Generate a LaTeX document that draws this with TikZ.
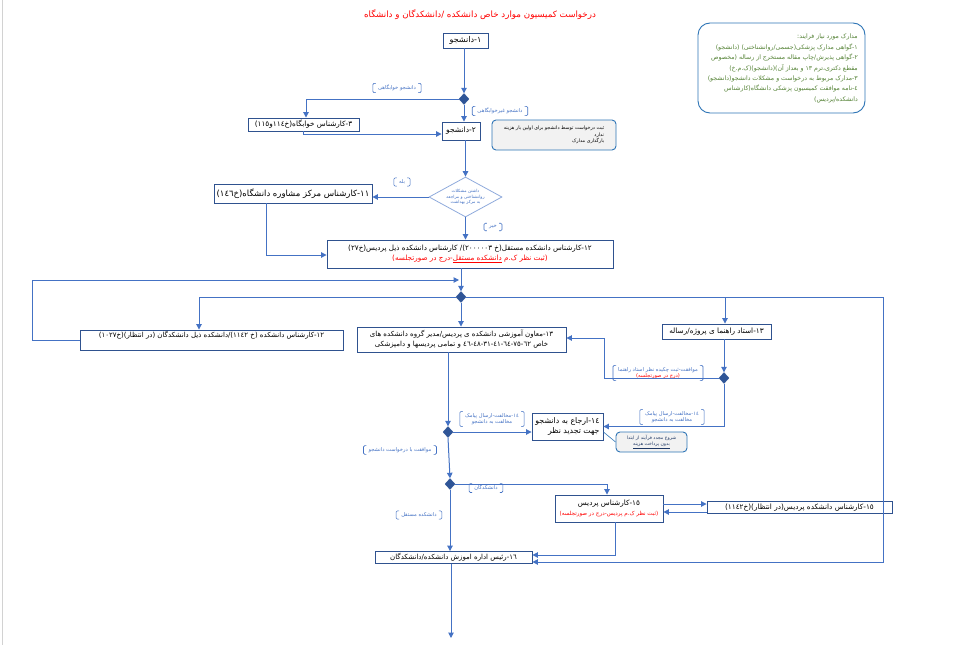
\documentclass[tikz,border=0pt]{standalone}
\usepackage{fontspec}
\usetikzlibrary{arrows.meta,shapes.geometric}
\TeXXeTstate=1
\newfontfamily\ar[Script=Arabic]{DejaVu Sans}
\newcommand\R[1]{\beginR #1\endR}
\newcommand\fs[2]{\fontsize{#1}{#2}\selectfont}
\definecolor{boxc}{HTML}{2F528F}
\definecolor{arrc}{HTML}{4472C4}
\definecolor{diac}{HTML}{2F5597}
\definecolor{lblc}{HTML}{4472C4}
\definecolor{redc}{HTML}{FF0000}
\definecolor{grnc}{HTML}{548235}
\definecolor{notec}{HTML}{2E75B6}
\definecolor{notefill}{HTML}{F2F2F2}
\definecolor{dlc}{HTML}{8FAADC}
\definecolor{navy}{HTML}{1F3864}
\newcommand\blabel[3]{%
 \node[lbl] (#1) at (#2) {#3};
 \draw[brk] ([xshift=3pt]#1.north west) -- (#1.north west) -- (#1.south west) -- ([xshift=3pt]#1.south west);
 \draw[brk] ([xshift=-3pt]#1.north east) -- (#1.north east) -- (#1.south east) -- ([xshift=-3pt]#1.south east);}
\begin{document}
\begin{tikzpicture}[x=1pt,y=-1pt,
  box/.style={draw=boxc, line width=0.9pt, fill=white, inner sep=1pt, font=\ar\fs{7.5}{9.5}, text=black, align=center},
  ln/.style={draw=arrc, line width=1pt},
  arr/.style={ln, -{Triangle[length=5.5pt,width=5.5pt]}},
  sd/.style={diamond, fill=diac, draw=diac, inner sep=0pt, minimum width=10pt, minimum height=11pt},
  lbl/.style={font=\ar\fs{5.2}{6.6}, text=lblc, inner xsep=5pt, inner ysep=1.5pt, align=center},
  brk/.style={draw=lblc, line width=0.6pt, rounded corners=1.2pt},
  note/.style={draw=notec, line width=0.9pt, fill=notefill, rounded corners=4pt, inner sep=2pt, font=\ar\fs{4.8}{6.5}, align=right}]
\useasboundingbox (0,0) rectangle (959,645);
\fill[white] (0,0) rectangle (959,645);
\draw[gray!35, line width=1pt] (2,0) -- (2,645);

% title
\node[font=\ar\fs{8.7}{10}, text=redc] (title) at (480,15) {\R{درخواست کمیسیون موارد خاص دانشکده /دانشکدگان و دانشگاه}};

% top-right requirements box
\node[draw=notec, line width=0.9pt, rounded corners=12pt, minimum width=167pt, minimum height=90pt] (req) at (781.5,68) {};
\node[anchor=north east, font=\ar\fs{6.2}{10.4}, text=grnc, align=right, inner sep=0pt] (reqt) at (858,34) {%
\R{مدارک مورد نیاز فرایند:}\\
\R{١-گواهی مدارک پزشکی(جسمی/روانشناختی) (دانشجو)}\\
\R{٢-گواهی پذیرش/چاپ مقاله مستخرج از رساله (مخصوص}\\
\R{مقطع دکتری،ترم ١٣ و بعداز آن)(دانشجو)(ک.م.خ)}\\
\R{٣-مدارک مربوط به درخواست و مشکلات دانشجو(دانشجو)}\\
\R{٤-نامه موافقت کمیسیون پزشکی دانشگاه(کارشناس}\\
\R{دانشکده/پردیس)}};

% nodes
\node[box, minimum width=45pt, minimum height=15pt, font=\ar\fs{8}{9}] (n1) at (465.5,40.5) {\R{١-دانشجو}};
\node[sd] (d1) at (464,99) {};
\node[box, minimum width=111pt, minimum height=13pt, font=\ar\fs{7.3}{9}] (n3) at (303.5,124.5) {\R{٣-کارشناس خوابگاه(خ١١٤و١١٥)}};
\node[box, minimum width=38pt, minimum height=18pt, font=\ar\fs{7.5}{9}] (n2) at (461,131) {\R{٢-دانشجو}};
\node[note, minimum width=124pt, minimum height=30pt] (note1) at (554,135) {\R{ثبت درخواست توسط دانشجو برای اولین بار هزینه}\\\R{ندارد}\\\R{بارگذاری مدارک}};

\node[diamond, draw=dlc, fill=white, line width=0.8pt, minimum width=73pt, minimum height=40pt, inner sep=0pt] (d2) at (465.5,197) {};
\node[font=\ar\fs{4.3}{5.5}, text=lblc, align=center] (d2t) at (465.5,197) {\R{داشتن مشکلات}\\\R{روانشناختی و مراجعه}\\\R{به مرکز بهداشت}};

\node[box, minimum width=158pt, minimum height=19pt, font=\ar\fs{8.5}{10}] (n11) at (293,193.5) {\R{١١-کارشناس مرکز مشاوره  دانشگاه(خ١٤٦)}};

\node[box, minimum width=286pt, minimum height=28pt, font=\ar\fs{7.2}{10}] (n12a) at (470,254) {\R{١٢-کارشناس دانشکده مستقل(خ ٢٠٠٠٠٠٣)/ کارشناس دانشکده ذیل پردیس(خ٢٧)}\\ \textcolor{redc}{\R{(ثبت نظر ک.م \underline{\R{دانشکده  مستقل}}-درج در صورتجلسه)}}};

\node[sd] (d3) at (461,297) {};

\node[box, minimum width=263pt, minimum height=20pt] (n12b) at (211.5,340) {};
\node[font=\ar\fs{7}{8}, inner sep=0pt] (n12bt) at (211.5,335.5) {\R{١٢-کارشناس دانشکده (خ ١١٤٢)/دانشکده ذیل دانشکدگان (در انتظار)(خ١٠٢٧)}};

\node[box, minimum width=209pt, minimum height=25pt, font=\ar\fs{7}{10}] (n13a) at (461.5,339.5) {\R{١٣-معاون آموزشی دانشکده ی پردیس/مدیر گروه دانشکده های}\\\R{خاص \beginL ٤٦\kern0pt-\kern0pt٤٨\kern0pt-\kern0pt٣١\kern0pt-\kern0pt٤١\kern0pt-\kern0pt٦٤\kern0pt-\kern0pt٧٥\kern0pt-\kern0pt٦٢\endL{} و تمامی پردیسها و دامپزشکی}};

\node[box, minimum width=109pt, minimum height=15pt, font=\ar\fs{7.3}{9}] (n13b) at (716.5,331.5) {\R{١٣-استاد راهنما ی پروژه/رساله}};

\node[sd] (d4) at (724,378) {};
\node[sd] (d5) at (448,432) {};

\node[box, minimum width=71pt, minimum height=27pt, font=\ar\fs{7.8}{10}, align=right] (n14) at (567.5,426.5) {\R{١٤-ارجاع به دانشجو}\\\R{جهت تجدید نظر}};
\node[note, minimum width=71pt, minimum height=20pt, align=center, font=\ar\fs{4.6}{6.5}, text=navy] (call) at (651.5,442) {\R{شروع مجدد فرآیند از ابتدا}\\\underline{\R{بدون پرداخت هزینه}}};

\node[sd] (d6) at (450,484) {};

\node[box, minimum width=108pt, minimum height=27pt, font=\ar\fs{7.3}{9.5}] (n15a) at (609,508.5) {\R{١٥-کارشناس پردیس}\\{\fs{5.6}{7}\textcolor{redc}{\R{(ثبت نظر ک.م  پردیس-درج در صورتجلسه)}}}};
\node[box, minimum width=185pt, minimum height=12pt, font=\ar\fs{7.3}{9}] (n15b) at (799.5,507.5) {\R{١٥-کارشناس دانشکده پردیس(در انتظار)(خ١١٤٢)}};

\node[box, minimum width=157pt, minimum height=12pt, font=\ar\fs{7}{8}] (n16) at (453.5,557.5) {\R{١٦-رئیس اداره اموزش دانشکده/دانشکدگان}};

% labels
\blabel{l1}{397,88}{\R{دانشجو خوابگاهی}}
\blabel{l2}{500,111}{\R{دانشجو غیرخوابگاهی}}
\blabel{l3}{402,182}{\R{بله}}
\blabel{l4}{493,227}{\R{خیر}}
\blabel{l5}{658,373}{\R{موافقت-ثبت چکیده نظر استاد راهنما}\\\textcolor{redc}{\R{(درج در صورتجلسه)}}}
\blabel{l6}{672,417}{\R{١٤-مخالفت-ارسال پیامک}\\\R{مخالفت به دانشجو}}
\blabel{l7}{492,419}{\R{١٤-مخالفت-ارسال پیامک}\\\R{مخالفت به دانشجو}}
\blabel{l8}{400,450}{\R{موافقت با درخواست دانشجو}}
\blabel{l9}{486,488}{\R{دانشکدگان}}
\blabel{l10}{419,515}{\R{دانشکده مستقل}}

% connectors
\draw[arr] (n1.south -| d1.north) -- (d1.north);
\draw[arr] (d1.west) -| ([xshift=2.5pt]n3.north);
\draw[arr] (d1.south) -- (d1.south |- n2.north);
\draw[arr] (n3.south) |- ([yshift=-3pt]n2.west);
\draw[arr] (n2.south -| d2.north) -- (d2.north);
\draw[arr] (d2.west) -- (d2.west -| n11.east);
\draw[arr] ([xshift=-27pt]n11.south) |- ([yshift=-1pt]n12a.west);
\draw[arr] (d2.south) -- (d2.south |- n12a.north);
\draw[arr] (n12a.south -| d3.north) -- (d3.north);
\draw[arr] (d3.west) -| ([xshift=-12.5pt]n12b.north);
\draw[arr] (d3.east) -| ([xshift=8.5pt]n13b.north);
\coordinate (rc) at (883,562);
\draw[arr] (d3.east) -| (rc) -- (rc -| n16.east);
\draw[arr] (d3.south) -- (d3.south |- n13a.north);
\coordinate (lp) at (32,280);
\coordinate (jn) at (459,280);
\draw[arr] (n12b.west) -- (n12b.west -| lp) -- (lp) -- (jn);
\draw[arr] (d4.north |- n13b.south) -- (d4.north);
\coordinate (c604) at (604,378);
\draw[arr] (d4.west) -- (c604) |- ([yshift=1.5pt]n13a.east);
\draw[arr] (d4.south) |- (n14.east);
\draw[arr] (n13a.south -| d5.north) -- (d5.north);
\draw[arr] (d5.east) -- (d5.east -| n14.west);
\draw[notec, line width=0.6pt] ([yshift=-5.5pt]n14.east) -- (call.west);
\draw[arr] (d5.south) -- (d6.north);
\draw[arr] (d6.east) -| ([xshift=-2pt]n15a.north);
\draw[arr] (d6.south) -- (d6.south |- n16.north);
\coordinate (p0) at ([yshift=4.5pt]n15a.east);
\draw[arr] (p0) -- (p0 -| n15b.west);
\coordinate (p1) at ([yshift=-4.5pt]n15b.west);
\draw[arr] (p1) -- (p1 -| n15a.east);
\coordinate (p2) at ([xshift=6pt]n15a.south);
\coordinate (p3) at ([yshift=2.5pt]n16.east);
\draw[arr] (p2) |- (p3);
\coordinate (endc) at (451,638);
\draw[arr] (n16.south -| endc) -- (endc);
\end{tikzpicture}
\end{document}
